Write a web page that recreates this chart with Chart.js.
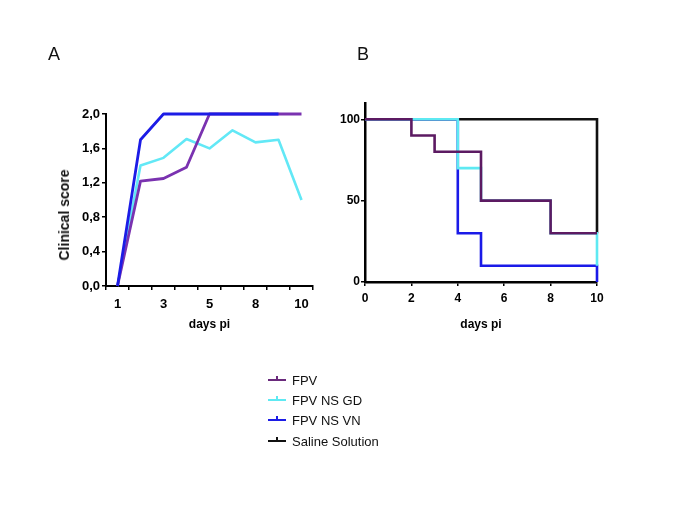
<!DOCTYPE html>
<html>
<head>
<meta charset="utf-8">
<script src="https://cdn.jsdelivr.net/npm/chart.js@4.4.1/dist/chart.umd.min.js"></script>
<style>
  html, body { margin: 0; padding: 0; background: #fff; }
  body { width: 685px; height: 513px; position: relative; overflow: hidden; font-family: "Liberation Sans", Arial, sans-serif; }
  canvas { position: absolute; left: 0; top: 0; }
  .panel { position: absolute; font-size: 18px; line-height: 18px; color: #111; }
  .ytitle { position: absolute; left: 63.5px; top: 215px; transform: translate(-50%, -50%) rotate(-90deg); font-size: 14px; font-weight: bold; line-height: 14px; white-space: nowrap; color: #111; }
  .leg { position: absolute; left: 268px; font-size: 13px; line-height: 13px; color: #111; white-space: nowrap; }
  .sym { position: absolute; left: 0; top: 5px; width: 18px; height: 2px; }
  .sym::after { content: ""; position: absolute; left: 8px; top: -3px; width: 2px; height: 3px; background: inherit; }
  .leg span.t { position: absolute; left: 24px; top: 0; }
</style>
</head>
<body>
<canvas id="chartA" width="685" height="513"></canvas>
<canvas id="chartB" width="685" height="513"></canvas>
<div class="panel" style="left:48px; top:45px;">A</div>
<div class="panel" style="left:357px; top:45px;">B</div>
<div class="ytitle">Clinical score</div>
<div id="legend"></div>
<script>
// ---- Panel A: clinical score ----
const days = ['1', '2', '3', '4', '5', '6', '8', '9', '10'];
const scoreFPV    = [0, 1.22, 1.25, 1.38, 2.0, 2.0, 2.0, 2.0, 2.0];
const scoreNSGD   = [0, 1.40, 1.49, 1.71, 1.60, 1.81, 1.67, 1.70, 1.00];
const scoreNSVN   = [0, 1.70, 2.0, 2.0, 2.0, 2.0, 2.0, 2.0, null];

// ---- Panel B: survival ----
const survDays    = [0, 2, 3, 4, 5, 8, 10];
const survFPV     = [100, 90, 80, 80, 50, 30, 30];
const survNSGD    = [100, 100, 100, 70, 50, 30, 10];
const survNSVN    = [100, 100, 100, 30, 10, 10, 0];
const survSaline  = [100, 100, 100, 100, 100, 100, 30];

const seriesNames = ['FPV', 'FPV NS GD', 'FPV NS VN', 'Saline Solution'];
const legendColors = ['#6a2a7c', '#5ee9f2', '#1c1ce6', '#111111'];

const FONT = '"Liberation Sans", Arial, sans-serif';
Chart.defaults.font.family = FONT;
Chart.defaults.color = '#000';

const axisGrid = { drawOnChartArea: false, drawTicks: true, tickLength: 4, color: '#000', lineWidth: 1.5 };

new Chart(document.getElementById('chartA'), {
  type: 'line',
  data: {
    labels: days,
    datasets: [
      { label: seriesNames[2], data: scoreNSVN, borderColor: '#1c1ce6', borderWidth: 2.8, order: 0, clip: false },
      { label: seriesNames[0], data: scoreFPV, borderColor: '#7a32b0', borderWidth: 2.8, order: 1, clip: false },
      { label: seriesNames[1], data: scoreNSGD, borderColor: '#62e8f6', borderWidth: 2.6, order: 2, clip: false }
    ]
  },
  options: {
    responsive: false,
    animation: false,
    devicePixelRatio: 1,
    elements: { point: { radius: 0 }, line: { tension: 0, borderCapStyle: 'butt', borderJoinStyle: 'round' } },
    plugins: { legend: { display: false }, tooltip: { enabled: false } },
    layout: { padding: { left: 57, top: 114, right: 372, bottom: 181 } },
    scales: {
      x: {
        type: 'category',
        offset: true,
        grid: Object.assign({}, axisGrid, { offset: true }),
        border: { display: true, color: '#000', width: 2 },
        ticks: {
          autoSkip: false, maxRotation: 0, padding: 7,
          font: { size: 13, weight: 'bold' },
          callback: (v, i) => (i % 2 === 0 ? days[i] : '')
        },
        title: { display: true, text: 'days pi', padding: 0, font: { size: 12, weight: 'bold' } },
        afterFit: s => { s.height = 46; }
      },
      y: {
        min: 0, max: 2,
        grid: axisGrid,
        border: { display: true, color: '#000', width: 2 },
        ticks: {
          stepSize: 0.4, padding: 2,
          font: { size: 13, weight: 'bold' },
          callback: v => Number(v).toFixed(1).replace('.', ',')
        },
        afterFit: s => { s.width = 49; }
      }
    }
  }
});

function pts(xs, ys) { return xs.map((x, i) => ({ x: x, y: ys[i] })); }

new Chart(document.getElementById('chartB'), {
  type: 'line',
  data: {
    datasets: [
      { label: seriesNames[0], data: pts(survDays, survFPV), borderColor: '#5c1a62', borderWidth: 2.6, stepped: 'before', clip: false },
      { label: seriesNames[1], data: pts(survDays, survNSGD), borderColor: '#5ee9f2', borderWidth: 2.6, stepped: 'before', clip: false },
      { label: seriesNames[2], data: pts(survDays, survNSVN), borderColor: '#1a1ae8', borderWidth: 2.6, stepped: 'before', clip: false },
      { label: seriesNames[3], data: pts(survDays, survSaline), borderColor: '#111111', borderWidth: 2.6, stepped: 'before', clip: false }
    ]
  },
  options: {
    responsive: false,
    animation: false,
    devicePixelRatio: 1,
    elements: { point: { radius: 0 }, line: { tension: 0 } },
    plugins: { legend: { display: false }, tooltip: { enabled: false } },
    layout: { padding: { left: 335, top: 103, right: 88, bottom: 181 } },
    scales: {
      x: {
        type: 'linear', min: 0, max: 10,
        grid: axisGrid,
        border: { display: true, color: '#000', width: 2.5 },
        ticks: { stepSize: 2, padding: 5, maxRotation: 0, font: { size: 12, weight: 'bold' } },
        title: { display: true, text: 'days pi', padding: 0, font: { size: 12, weight: 'bold' } },
        afterFit: s => { s.height = 50; }
      },
      y: {
        min: 0, max: 110,
        grid: axisGrid,
        border: { display: true, color: '#000', width: 2.5 },
        ticks: { stepSize: 50, padding: 1, font: { size: 12, weight: 'bold' } },
        afterBuildTicks: s => { s.ticks = s.ticks.filter(t => t.value % 50 === 0); },
        afterFit: s => { s.width = 30; }
      }
    }
  }
});

// ---- legend (real text) ----
const legendTops = [374, 394, 414, 435];
const leg = document.getElementById('legend');
seriesNames.forEach((name, i) => {
  const d = document.createElement('div');
  d.className = 'leg';
  d.style.top = legendTops[i] + 'px';
  const s = document.createElement('span');
  s.className = 'sym';
  s.style.background = legendColors[i];
  const t = document.createElement('span');
  t.className = 't';
  t.textContent = name;
  d.appendChild(s); d.appendChild(t);
  leg.appendChild(d);
});
</script>
</body>
</html>
